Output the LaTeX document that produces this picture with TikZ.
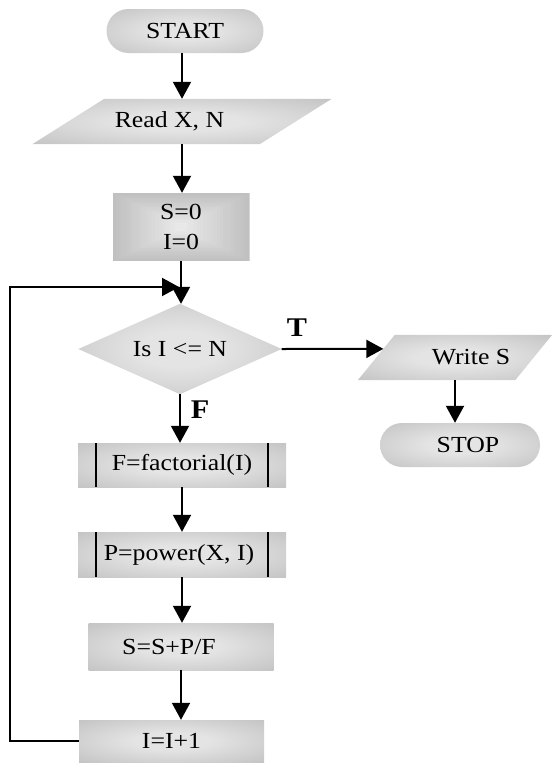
\documentclass[tikz,border=0pt]{standalone}
\usepackage{fontspec}
\setmainfont{Liberation Serif}[FakeStretch=1.12]
\usetikzlibrary{arrows.meta,calc,backgrounds}

\definecolor{shadeout}{RGB}{178,178,178}
\definecolor{shadein}{RGB}{228,228,228}
\definecolor{pyrout}{RGB}{192,192,192}
\definecolor{pyrin}{RGB}{232,232,232}
% soft glow: light centre fading to mid grey at the shape's border
\pgfdeclareradialshading{softglow}{\pgfpoint{0bp}{0bp}}{%
  color(0bp)=(shadein); color(10bp)=(shadein);
  color(50bp)=(shadeout); color(100bp)=(shadeout)}

\begin{document}
\begin{tikzpicture}[x=1pt,y=-1pt,
  every node/.style={font=\fontsize{23pt}{30pt}\selectfont, inner sep=0pt},
  term/.style={rectangle, rounded corners=22pt, shading=softglow, minimum height=44pt},
  frame/.style={rectangle, minimum height=45pt},
  proc/.style={rectangle, shading=softglow, minimum height=46pt},
  link/.style={line width=2pt},
  arr/.style={line width=2pt, -{Triangle[length=17pt,width=18pt]}},
  lbl/.style={font=\fontsize{27pt}{30pt}\selectfont\bfseries},
  pyramid/.style={path picture={
    \foreach \k in {0,...,19}{
      \pgfmathtruncatemacro\mixp{\k*100/19}
      \fill[pyrin!\mixp!pyrout]
        ([xshift=\k*3.3pt,yshift=-\k*1.6pt]path picture bounding box.north west)
        rectangle
        ([xshift=-\k*3.3pt,yshift=\k*1.6pt]path picture bounding box.south east);
    }}}]

\useasboundingbox (0,0) rectangle (554,763);

% ---- nodes ----
\node[term, minimum width=157pt] (start) at (185,31) {START};
\node[frame, minimum width=299pt] (read) at (182,121.5) {Read X, N\hspace*{25pt}};
\node[rectangle, pyramid, minimum width=137pt, minimum height=68pt, align=center]
  (init) at (181,227) {S=0\\I=0};
\node[frame, minimum width=203pt, minimum height=90pt] (dec) at (180,349) {Is I <= N};
\node[frame, minimum width=194pt] (write) at (455,357.5) {\hspace*{32pt}Write S};
\node[term, minimum width=160pt] (stop) at (460,445) {\hspace*{16pt}STOP};
\node[proc, minimum width=208pt, minimum height=44pt] (fact) at (182,465) {F=factorial(I)};
\node[proc, minimum width=208pt, minimum height=45pt] (power) at (182,554.5) {P=power(X, I)\hspace*{6pt}};
\node[proc, minimum width=185pt, minimum height=47pt] (sum) at (181,646.5) {S=S+P/F\hspace*{24pt}};
\node[proc, minimum width=185pt, minimum height=42pt] (incr) at (171.5,741) {I=I+1};

\node[lbl] (tlab) at (297,328) {T};
\node[lbl] (flab) at (200,410) {F};

% ---- shapes drawn behind the texts ----
\begin{scope}[on background layer]
  \path[shading=softglow] (read.south west) -- ([xshift=72pt]read.north west)
    -- (read.north east) -- ([xshift=-72pt]read.south east) -- cycle;
  \path[shading=softglow] (dec.north) -- (dec.east) -- (dec.south) -- (dec.west) -- cycle;
  \path[shading=softglow] (write.south west) -- ([xshift=37pt]write.north west)
    -- (write.north east) -- ([xshift=-37pt]write.south east) -- cycle;
\end{scope}

% predefined-process side bars
\foreach \n in {fact,power}{
  \draw[link] ([xshift=18pt]\n.north west) -- ([xshift=18pt]\n.south west);
  \draw[link] ([xshift=-18pt]\n.north east) -- ([xshift=-18pt]\n.south east);
}

% ---- connectors ----
\coordinate (join) at (181,287);
\coordinate (wtl) at ([xshift=37pt]write.north west);
\coordinate (loopx) at (10,741);

\draw[arr] (start.south -| read.north) -- (read.north);
\draw[arr] (read.south) -- (read.south |- init.north);
\draw[arr] (init.south) -- (init.south |- dec.north);
\draw[arr] (dec.east) -- ($(write.south west)!0.69!(wtl)$);
\draw[arr] (write.south) -- (write.south |- stop.north);
\draw[arr] (dec.south) -- (dec.south |- fact.north);
\draw[arr] (fact.south) -- (fact.south |- power.north);
\draw[arr] (power.south) -- (power.south |- sum.north);
\draw[arr] (sum.south) -- (sum.south |- incr.north);
\draw[arr, shorten >=2pt] (incr.west) -- (loopx) |- (join);

\end{tikzpicture}
\end{document}
